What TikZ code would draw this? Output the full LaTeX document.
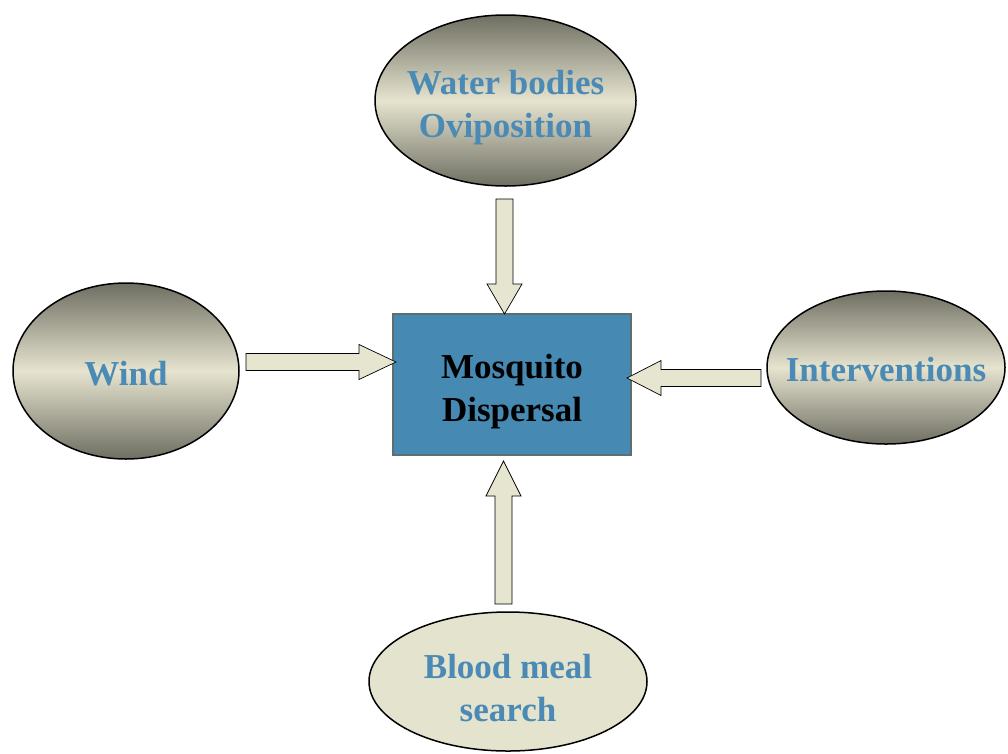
\documentclass[tikz,border=0pt]{standalone}
\usepackage{fontspec}
\setmainfont{Liberation Serif}
\usepackage{xcolor}
\usetikzlibrary{positioning,calc,shapes.geometric}

\definecolor{ovaldark}{RGB}{110,110,98}
\definecolor{ovallight}{RGB}{230,228,207}
\definecolor{mealfill}{RGB}{228,227,205}
\definecolor{labelblue}{RGB}{74,138,180}
\definecolor{boxblue}{RGB}{70,137,178}
\definecolor{boxedge}{RGB}{91,112,107}
\definecolor{arrowfill}{RGB}{230,229,208}

% fat hollow arrow from #1 to #2, head length #3
\newcommand{\blockarrow}[3]{%
  \draw[fatarrow] let \p1=($(#2)-(#1)$), \n1={veclen(\x1,\y1)}, \n2={atan2(\y1,\x1)} in
    [shift={(#1)}, rotate=\n2] (0pt,-8.5pt) -- (\n1-#3,-8.5pt) -- (\n1-#3,-17.5pt) -- (\n1,0pt)
    -- (\n1-#3,17.5pt) -- (\n1-#3,8.5pt) -- (0pt,8.5pt) -- cycle;}

\begin{document}
\begin{tikzpicture}[
  oval/.style={draw, ellipse, line width=1.5pt, inner sep=-16pt, outer sep=0pt, top color=ovaldark, bottom color=ovaldark, middle color=ovallight, text=labelblue, align=center, text height=29pt, font=\fontsize{35}{43}\selectfont\bfseries},
  twoline/.style={text height=81pt},
  fatarrow/.style={draw, fill=arrowfill, line width=0.7pt, line join=miter}
]
\useasboundingbox (0,0) rectangle (1008pt,-753pt);

\node[draw=boxedge, line width=2pt, fill=boxblue, minimum width=238pt, minimum height=141pt, outer sep=0pt, align=center, twoline, font=\fontsize{35}{43}\selectfont\bfseries] (dispersal) at (512pt,-384.5pt) {Mosquito\\Dispersal};

\node[oval, twoline, minimum width=261pt, minimum height=171pt, above=128pt of dispersal, xshift=-6.5pt] (water) {Water bodies\\Oviposition};
\node[oval, minimum width=226pt, minimum height=176pt, left=154pt of dispersal, yshift=13.5pt] (wind) {Wind};
\node[oval, minimum width=238pt, minimum height=153pt, right=136pt of dispersal, yshift=17pt] (interv) {Interventions};
\node[oval, twoline, fill=mealfill, top color=mealfill, bottom color=mealfill, middle color=mealfill, minimum width=278pt, minimum height=139pt, below=157pt of dispersal, xshift=-4pt] (meal) {Blood meal\\search};

\coordinate (water-out) at ([shift={(-1pt,-13pt)}]water.south);
\coordinate (water-in) at (water-out |- dispersal.north);
\coordinate (wind-out) at ([shift={(7pt,9pt)}]wind.east);
\coordinate (wind-in) at ($(dispersal.west |- wind-out)+(3pt,0)$);
\coordinate (interv-out) at ([shift={(-6pt,-10.5pt)}]interv.west);
\coordinate (interv-in) at ($(dispersal.east |- interv-out)+(-4pt,0)$);
\coordinate (meal-out) at ([shift={(-4.5pt,8pt)}]meal.north);
\coordinate (meal-in) at ($(meal-out |- dispersal.south)+(0,-6pt)$);

\blockarrow{water-out}{water-in}{30pt}
\blockarrow{wind-out}{wind-in}{37pt}
\blockarrow{interv-out}{interv-in}{34pt}
\blockarrow{meal-out}{meal-in}{35pt}
\end{tikzpicture}
\end{document}
